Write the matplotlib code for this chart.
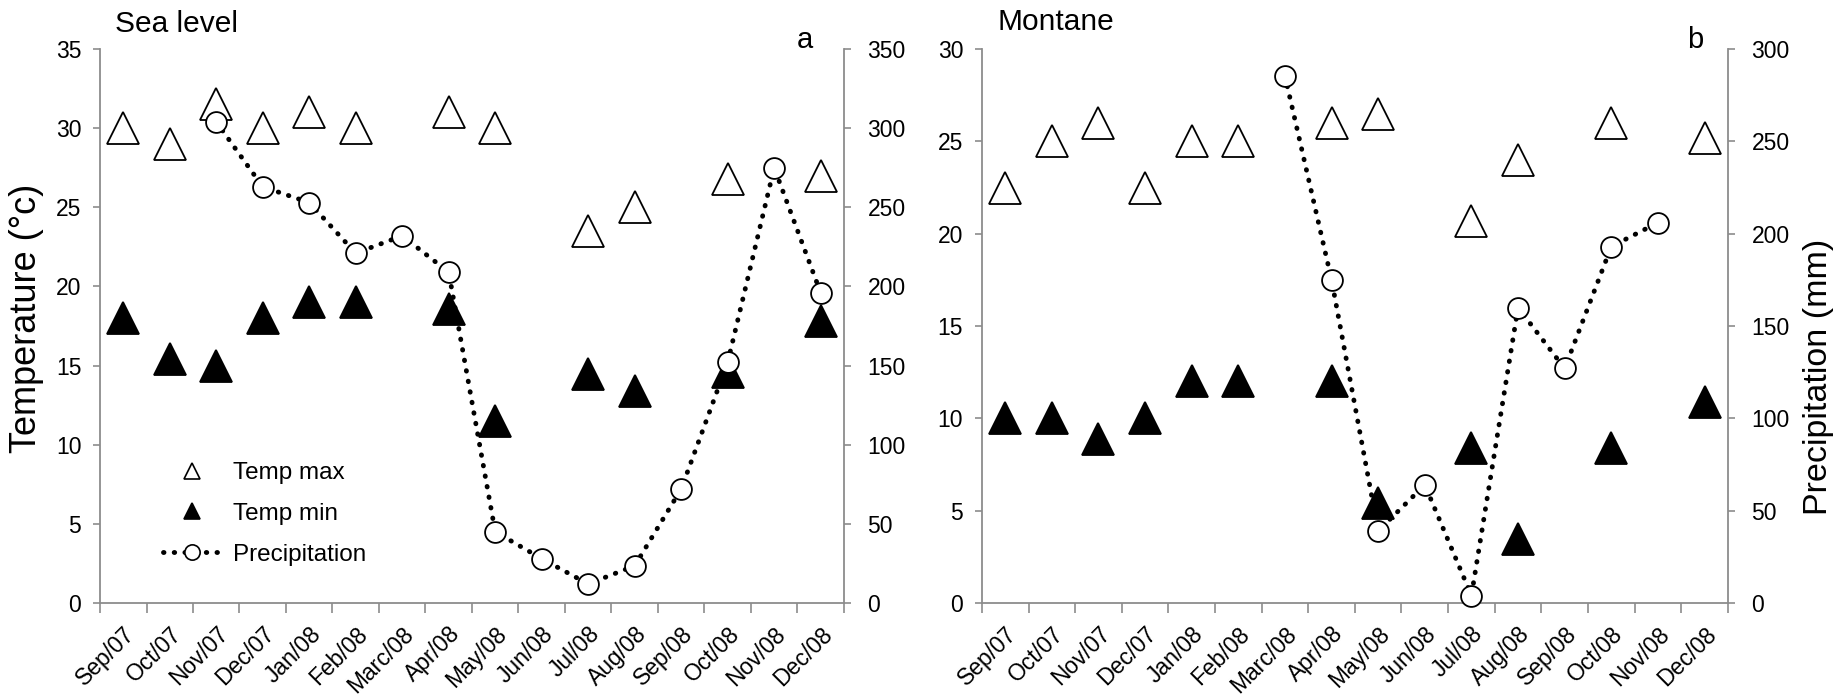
import numpy as np
import matplotlib
matplotlib.use("Agg")
import matplotlib.pyplot as plt
from matplotlib.lines import Line2D
from matplotlib.transforms import ScaledTranslation

plt.rcParams['font.family'] = ['Liberation Sans', 'DejaVu Sans']

months = ["Sep/07", "Oct/07", "Nov/07", "Dec/07", "Jan/08", "Feb/08", "Marc/08", "Apr/08",
          "May/08", "Jun/08", "Jul/08", "Aug/08", "Sep/08", "Oct/08", "Nov/08", "Dec/08"]
nan = np.nan

# Sea level
sea_tmax = [30, 29, 31.5, 30, 31, 30, nan, 31, 30, nan, 23.5, 25, nan, 26.8, nan, 27]
sea_tmin = [18, 15.4, 15, 18, 19, 19, nan, 18.6, 11.5, nan, 14.5, 13.4, nan, 14.6, nan, 17.8]
sea_prec = [nan, nan, 304, 263, 253, 221, 232, 209, 45, 28, 12, 23.5, 72, 152, 275, 196]

# Montane
mon_tmax = [22.5, 25, 26, 22.5, 25, 25, nan, 26, 26.5, nan, 20.7, 24, nan, 26, nan, 25.2]
mon_tmin = [10, 10, 8.9, 10, 12, 12, nan, 12, 5.4, nan, 8.4, 3.45, nan, 8.4, nan, 10.9]
mon_prec = [nan, nan, nan, nan, nan, nan, 285.5, 175, 39, 64, 4, 160, 127, 193, 206, nan]

GRAY = "#8c8c8c"
DOTS = (0, (0.1, 2.1))


def draw_panel(fig, ax, tmax, tmin, prec, tlim, plim):
    x = np.arange(len(months))
    ax.plot(x, tmax, linestyle="none", marker="^", ms=22.5, mfc="white", mec="black",
            mew=1.3, clip_on=False, zorder=3)
    ax.plot(x, tmin, linestyle="none", marker="^", ms=22.5, mfc="black", mec="black",
            mew=1.3, clip_on=False, zorder=3)
    ax.set_ylim(0, tlim)
    ax.set_yticks(np.arange(0, tlim + 1, 5))
    ax.set_xlim(-0.5, len(months) - 0.5)
    ax.set_xticks(x)
    ax.set_xticklabels(months, rotation=45, ha="right", rotation_mode="anchor")
    # labels sit a bit right of the slot centre, like the original
    shift = ScaledTranslation(0.12, -0.05, fig.dpi_scale_trans)
    for lab in ax.get_xticklabels():
        lab.set_transform(lab.get_transform() + shift)
    ax.set_xticks(np.arange(-0.5, len(months), 1), minor=True)
    ax.tick_params(axis="x", which="major", length=0, pad=14, labelsize=16.5)
    ax.tick_params(axis="x", which="minor", length=7, width=1.2, color=GRAY)
    ax.tick_params(axis="y", length=5, width=1.2, color=GRAY, labelsize=16.5, pad=8.5)
    for s in ["top", "right"]:
        ax.spines[s].set_visible(False)
    for s in ["left", "bottom"]:
        ax.spines[s].set_color(GRAY)
        ax.spines[s].set_linewidth(1.3)

    ax2 = ax.twinx()
    ax2.plot(x, prec, color="black", lw=3.5, linestyle=DOTS, dash_capstyle="round", zorder=2)
    ax2.plot(x, prec, linestyle="none", marker="o", ms=15, mfc="white", mec="black",
             mew=1.3, clip_on=False, zorder=3)
    ax2.set_ylim(0, plim)
    ax2.set_yticks(np.arange(0, plim + 1, 50))
    ax2.tick_params(axis="y", length=5, width=1.2, color=GRAY, labelsize=16.5, pad=12)
    for s in ["top", "left", "bottom"]:
        ax2.spines[s].set_visible(False)
    ax2.spines["right"].set_color(GRAY)
    ax2.spines["right"].set_linewidth(1.3)
    return ax2


fig = plt.figure(figsize=(18.35, 6.95), dpi=100)
ax_a = fig.add_axes([0.0545, 0.1324, 0.4054, 0.797])
ax_b = fig.add_axes([0.5351, 0.1324, 0.4065, 0.797])

draw_panel(fig, ax_a, sea_tmax, sea_tmin, sea_prec, 35, 350)
draw_panel(fig, ax_b, mon_tmax, mon_tmin, mon_prec, 30, 300)

fig.text(115 / 1835, 1 - 24 / 695, "Sea level", fontsize=21.5, va="center", ha="left")
fig.text(997 / 1835, 1 - 22 / 695, "Montane", fontsize=21.5, va="center", ha="left")
fig.text(805 / 1835, 1 - 40 / 695, "a", fontsize=21, va="center", ha="center")
fig.text(1695 / 1835, 1 - 40 / 695, "b", fontsize=21, va="center", ha="center")

fig.text(26 / 1835, 1 - 318 / 695, "Temperature (°c)", fontsize=26, rotation=90,
         va="center", ha="center")
fig.text(1818 / 1835, 1 - 377 / 695, "Precipitation (mm)", fontsize=24.5, rotation=90,
         va="center", ha="center")

handles = [
    Line2D([], [], linestyle="none", marker="^", ms=12, mfc="white", mec="black", mew=1.2),
    Line2D([], [], linestyle="none", marker="^", ms=12, mfc="black", mec="black", mew=1.2),
    Line2D([], [], color="black", lw=3.5, linestyle=DOTS, dash_capstyle="round",
           marker="o", ms=11, mfc="white", mec="black", mew=1.2),
]
fig.legend(handles, ["Temp max", "Temp min", "Precipitation"], loc="upper left",
           bbox_to_anchor=(163 / 1835, 1 - 462 / 695), frameon=False, fontsize=17.5,
           handlelength=2.4, handletextpad=0.5, labelspacing=0.78, borderpad=0,
           borderaxespad=0)

fig.savefig("out.png", dpi=100)
